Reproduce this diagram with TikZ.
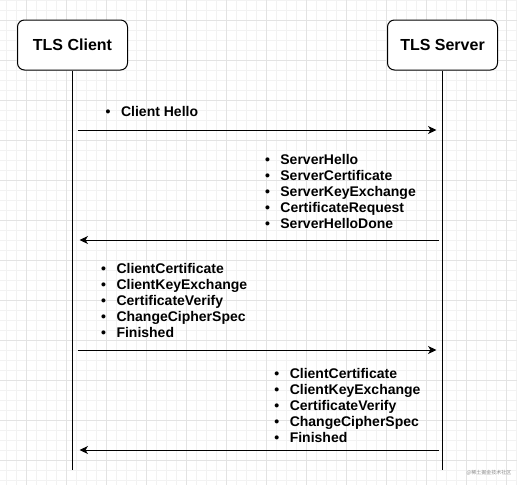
\documentclass[tikz,border=0pt]{standalone}
\usepackage{fontspec}
\setmainfont{Liberation Sans}
\newfontfamily\cjk{Noto Sans CJK SC}
\usetikzlibrary{arrows.meta,positioning}

\begin{document}
\begin{tikzpicture}[x=1pt,y=-1pt,
  gridminor/.style={draw=black!5,line width=0.6pt},
  gridmajor/.style={draw=black!11,line width=0.6pt},
  actor/.style={draw=black,line width=1pt,rounded corners=7pt,fill=white,
    minimum width=110pt,minimum height=50pt,inner sep=0pt,
    font=\fontsize{16}{19}\selectfont\bfseries},
  life/.style={draw=black,line width=1pt},
  msgright/.style={draw=black,line width=1pt,shorten <=5pt,shorten >=6pt,
    -{Stealth[length=8.5pt,width=8pt,inset=2.5pt]}},
  msgleft/.style={draw=black,line width=1pt,shorten <=3.5pt,shorten >=7pt,
    -{Stealth[length=8.5pt,width=8pt,inset=2.5pt]}},
  items/.style={align=left,anchor=north west,inner sep=0pt,
    font=\fontsize{14}{16}\selectfont\bfseries}]
\newcommand{\itm}{\textbullet\hspace{10.5pt}}
\useasboundingbox (0,0) rectangle (517,485);
\fill[white] (0,0) rectangle (517,485);
\foreach \gx in {6.7,16.7,...,516.7} \draw[gridminor] (\gx,0) -- (\gx,485);
\foreach \gy in {0,10,...,480} \draw[gridminor] (0,\gy) -- (517,\gy);
\foreach \gx in {26.7,66.7,...,506.7} \draw[gridmajor] (\gx,0) -- (\gx,485);
\foreach \gy in {20,60,...,460} \draw[gridmajor] (0,\gy) -- (517,\gy);

\node[actor] (client) at (72.5,45) {TLS Client};
\node[actor] (server) at (442.5,45) {TLS Server};
\coordinate (client end) at (72.5,470);
\coordinate (server end) at (442.5,470);
\draw[life] (client.south) -- (client end);
\draw[life] (server.south) -- (server end);

\coordinate (c1) at (72.5,130);
\coordinate (s1) at (442.5,130);
\draw[msgright] (c1) -- (s1);
\node[items] (hello) at (105.5,106) {\itm Client Hello};

\coordinate (c2) at (72.5,240);
\coordinate (s2) at (442.5,240);
\draw[msgleft] (s2) -- (c2);
\node[items] (serverhello) at (264.8,154) {\itm ServerHello\\
  \itm ServerCertificate\\
  \itm ServerKeyExchange\\
  \itm CertificateRequest\\
  \itm ServerHelloDone};

\coordinate (c3) at (72.5,350);
\coordinate (s3) at (442.5,350);
\draw[msgright] (c3) -- (s3);
\node[items] (clientfinish) at (100.9,263.5) {\itm ClientCertificate\\
  \itm ClientKeyExchange\\
  \itm CertificateVerify\\
  \itm ChangeCipherSpec\\
  \itm Finished};

\coordinate (c4) at (72.5,450);
\coordinate (s4) at (442.5,450);
\draw[msgleft] (s4) -- (c4);
\node[items] (serverfinish) at (274.2,368.5) {\itm ClientCertificate\\
  \itm ClientKeyExchange\\
  \itm CertificateVerify\\
  \itm ChangeCipherSpec\\
  \itm Finished};

\node[font=\cjk\fontsize{5}{6}\selectfont,text=black!45,inner sep=0pt] (mark) at (489,473) {@稀土掘金技术社区};
\end{tikzpicture}
\end{document}
